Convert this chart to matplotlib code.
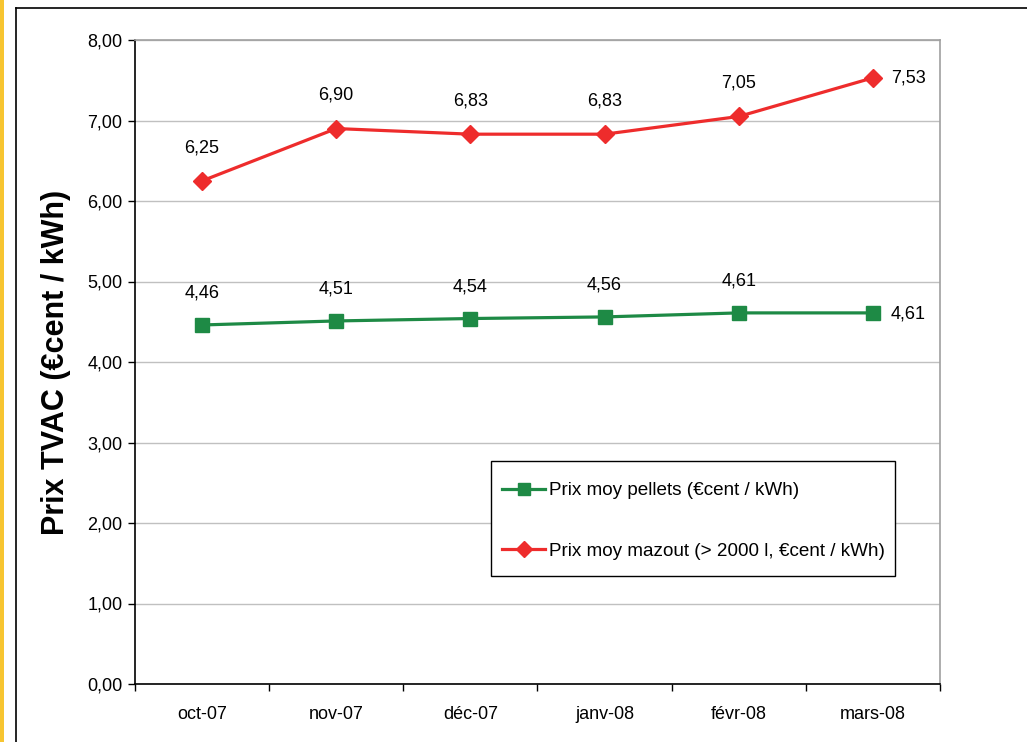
import matplotlib.pyplot as plt
from matplotlib.patches import Rectangle
from matplotlib.lines import Line2D

plt.rcParams['font.family'] = ['Liberation Sans', 'DejaVu Sans']

# Monthly average prices incl. VAT (€cent / kWh)
months = ['oct-07', 'nov-07', 'déc-07', 'janv-08', 'févr-08', 'mars-08']
pellets = [4.46, 4.51, 4.54, 4.56, 4.61, 4.61]
mazout = [6.25, 6.90, 6.83, 6.83, 7.05, 7.53]
label_pellets = 'Prix moy pellets (€cent / kWh)'
label_mazout = 'Prix moy mazout (> 2000 l, €cent / kWh)'

green = '#1E8A45'
red = '#EE2C2C'

W, H = 1027, 742
fig = plt.figure(figsize=(W / 100, H / 100), dpi=100)
fig.patch.set_facecolor('white')

# yellow strip and chart frame
fig.patches.append(Rectangle((0, 0), 4 / W, 1, transform=fig.transFigure,
                             facecolor='#F7C531', edgecolor='none'))
fig.lines.append(Line2D([15.5 / W, 15.5 / W], [0, 1 - 7.5 / H], transform=fig.transFigure,
                        color='black', lw=1.2))
fig.lines.append(Line2D([15.5 / W, 1], [1 - 7.5 / H, 1 - 7.5 / H], transform=fig.transFigure,
                        color='black', lw=1.2))

ax = fig.add_axes([135 / W, 58 / H, 805 / W, 644 / H])
x = range(len(months))

ax.plot(x, pellets, color=green, lw=2.3, marker='s', markersize=9.5, label=label_pellets, zorder=3)
ax.plot(x, mazout, color=red, lw=2.3, marker='D', markersize=9, label=label_mazout, zorder=3)


def fmt(v):
    return f'{v:.2f}'.replace('.', ',')


last = len(months) - 1
for i, (p, m) in enumerate(zip(pellets, mazout)):
    if i == last:
        ax.annotate(fmt(p), (i, p), xytext=(13, -1), textcoords='offset points',
                    ha='left', va='center', fontsize=13)
        ax.annotate(fmt(m), (i, m), xytext=(13, 0), textcoords='offset points',
                    ha='left', va='center', fontsize=13)
    else:
        ax.annotate(fmt(p), (i, p), xytext=(0, 23), textcoords='offset points',
                    ha='center', va='center', fontsize=13)
        ax.annotate(fmt(m), (i, m), xytext=(0, 24), textcoords='offset points',
                    ha='center', va='center', fontsize=13)

ax.set_xlim(-0.5, len(months) - 0.5)
ax.set_ylim(0, 8)
ax.set_yticks([0, 1, 2, 3, 4, 5, 6, 7, 8])
ax.set_yticklabels([fmt(v) for v in range(9)], fontsize=13)
ax.set_xticks(list(x))
ax.set_xticklabels(months, fontsize=13)
ax.set_xticks([i - 0.5 for i in range(len(months) + 1)], minor=True)
ax.tick_params(axis='x', which='major', length=0, pad=16)
ax.tick_params(axis='x', which='minor', length=5, width=1, direction='out')
ax.tick_params(axis='y', length=5, width=1, direction='out', pad=4)

ax.grid(axis='y', color='#C0C0C0', lw=1)
ax.set_axisbelow(True)

for side in ['top', 'right']:
    ax.spines[side].set_color('#A0A0A0')
    ax.spines[side].set_linewidth(1.2)
for side in ['left', 'bottom']:
    ax.spines[side].set_color('black')
    ax.spines[side].set_linewidth(1.2)

ax.set_ylabel('Prix TVAC (€cent / kWh)', fontsize=22, fontweight='bold', labelpad=12)

# legend box drawn separately so its padding can be set freely
ax.add_patch(Rectangle((356 / 805, 108 / 644), 404 / 805, 115 / 644, transform=ax.transAxes,
                       facecolor='white', edgecolor='black', lw=1.0, zorder=4))
leg = ax.legend(loc='upper left', bbox_to_anchor=(367 / 805, 202 / 644), fontsize=13.6,
                frameon=False, handlelength=2.3, handletextpad=0.2, labelspacing=2.3,
                borderpad=0, borderaxespad=0, markerscale=0.85)
leg.set_zorder(5)

fig.savefig('out.png', dpi=100)
